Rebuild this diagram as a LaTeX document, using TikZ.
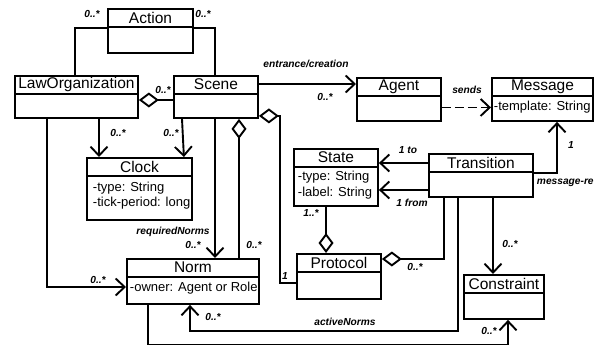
\documentclass[tikz,border=0pt]{standalone}
\usepackage{fontspec}
\setmainfont{Liberation Sans}
\usetikzlibrary{arrows.meta, calc}
\tikzset{
  every picture/.style={line width=1.9pt},
  classbox/.style={draw, anchor=north west, inner sep=0pt},
  classname/.style={font=\fontsize{15.5}{18}\selectfont, inner sep=0pt},
  attr/.style={font=\fontsize{13}{15}\selectfont, anchor=west, inner sep=0pt},
  role/.style={font=\fontsize{10.2}{12}\selectfont\bfseries\itshape, inner sep=0pt},
  assoc/.style={-{Straight Barb[length=9pt, width=17pt]}},
  aggr/.style={{Diamond[open, length=20pt, width=15pt]}-},
  depend/.style={assoc, dash pattern=on 9pt off 4pt},
}

\begin{document}
\begin{tikzpicture}[x=1pt, y=-1pt]
  \useasboundingbox (0,0) rectangle (594,345);
  % classes: name/left/top/width/height/title
  \foreach \name/\x/\y/\w/\h/\title in {
      action/107/8/85/44/Action,
      laworg/14/75/123/42/LawOrganization,
      scene/173/75/84/42/Scene,
      clock/86/157/105/62/Clock,
      norm/126/258/132/45/Norm,
      agent/356/77/84/43/Agent,
      message/491/77/101/43/Message,
      state/293/148/84/57/State,
      transition/428/153/104/43/Transition,
      protocol/296/253/84/45/Protocol,
      constraint/463/274/80/44/Constraint} {
    \node[classbox, minimum width=\w pt, minimum height=\h pt] (\name) at (\x,\y) {};
    \node[classname] (\name-title) at ($(\name.north)+(0,9.5)$) {\title};
    \draw ($(\name.north west)+(0,19)$) -- ($(\name.north east)+(0,19)$);
  }
  % attributes
  \node[attr] (clock-type) at ($(clock.north west)+(6,31)$) {-type: String};
  \node[attr] (clock-tick) at ($(clock.north west)+(6,46)$) {-tick-period: long};
  \node[attr] (norm-owner) at ($(norm.north west)+(3,30)$) {-owner: Agent or Role};
  \node[attr] (message-tpl) at ($(message.north west)+(2,30)$) {-template: String};
  \node[attr] (state-type) at ($(state.north west)+(4,29)$) {-type: String};
  \node[attr] (state-label) at ($(state.north west)+(4,45)$) {-label: String};

  % associations
  \draw ($(action.north west)+(0,20)$) -| ($(laworg.north west)+(61,0)$);
  \draw ($(action.north east)+(0,20)$) -| ($(scene.north west)+(42,0)$);
  \draw[aggr] ($(laworg.north east)+(0,25)$) -- ($(scene.north west)+(0,25)$);
  \draw[assoc] ($(laworg.south west)+(85,0)$) -- ($(clock.north west)+(13,0)$);
  \draw[assoc] ($(scene.south west)+(9,0)$) -- ($(clock.north east)+(-9,0)$);
  \draw[assoc] ($(laworg.south west)+(33,0)$) |- ($(norm.north west)+(0,29)$);
  \draw[assoc] ($(scene.south west)+(42,0)$) -- ($(norm.north west)+(89,0)$);
  \draw[aggr] ($(scene.south west)+(66,0)$) -- ($(norm.north west)+(113,0)$);
  \draw[aggr] ($(scene.south east)+(0,-3)$) -- ++(21,0) |- ($(protocol.north west)+(0,30)$);
  \draw[assoc] ($(scene.north east)+(0,9)$) -- ($(agent.north west)+(0,7)$);
  \draw[depend] ($(agent.east)+(0,8)$) -- ($(message.west)+(0,8)$);
  \draw[assoc] ($(transition.north west)+(0,10)$) -- ($(state.north east)+(0,15)$);
  \draw[assoc] ($(transition.north west)+(0,37)$) -- ($(state.north east)+(0,42)$);
  \draw[aggr] ($(protocol.north west)+(30,0)$) -- ($(state.south west)+(33,0)$);
  \draw[aggr] ($(protocol.north east)+(0,6)$) -| ($(transition.south west)+(16,0)$);
  \draw[assoc] ($(transition.south west)+(65,0)$) -- ($(constraint.north west)+(30,0)$);
  \draw[assoc] ($(transition.north east)+(0,20)$) -| ($(message.south west)+(66,0)$);
  \draw[assoc] ($(transition.south west)+(30,0)$) |- ($(norm.south west)+(64,26)$) -- ($(norm.south west)+(64,0)$);
  \draw[assoc] ($(norm.south west)+(22,0)$) |- ($(constraint.south west)+(45,25)$) -- ($(constraint.south west)+(45,0)$);

  % role names and multiplicities
  \node[role] (m-act-law) at (92,14) {0..*};
  \node[role] (m-act-scene) at (203,14) {0..*};
  \node[role] (m-law-scene) at (163,90) {0..*};
  \node[role] (m-law-clock) at (118,133) {0..*};
  \node[role] (m-scene-clock) at (171,133) {0..*};
  \node[role] (m-law-norm) at (98,280) {0..*};
  \node[role] (r-required) at (173,232) {requiredNorms};
  \node[role] (m-required) at (193,245) {0..*};
  \node[role] (m-scene-norm) at (254,245) {0..*};
  \node[role] (m-scene-proto) at (285,276) {1};
  \node[role] (r-entrance) at (306,64) {entrance/creation};
  \node[role] (m-entrance) at (325,97) {0..*};
  \node[role] (r-sends) at (467,90) {sends};
  \node[role] (r-to) at (408,150) {1 to};
  \node[role] (r-from) at (412,203) {1 from};
  \node[role] (m-state-proto) at (311,213) {1..*};
  \node[role] (m-proto-trans) at (415,267) {0..*};
  \node[role] (m-trans-constr) at (510,244) {0..*};
  \node[role] (m-trans-msg) at (571,145) {1};
  \node[role, anchor=west] (r-message) at (536,183) {message-re};
  \node[role] (r-active) at (345,322) {activeNorms};
  \node[role] (m-active) at (213,317) {0..*};
  \node[role] (m-norm-constr) at (489,331) {0..*};
\end{tikzpicture}
\end{document}
